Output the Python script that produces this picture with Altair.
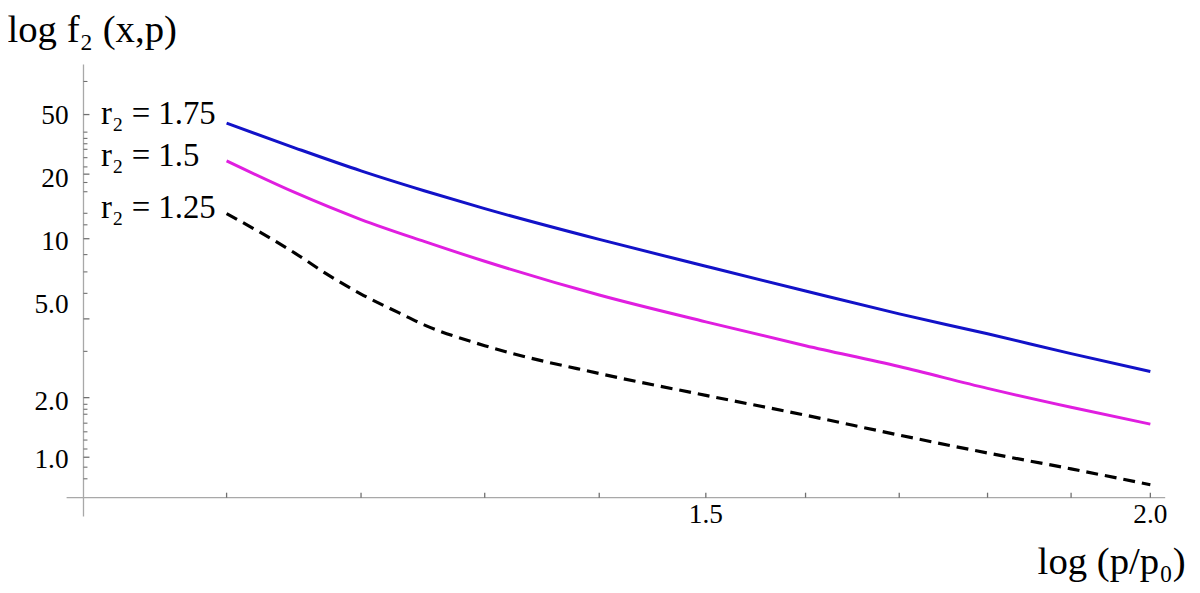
import altair as alt
import pandas as pd

# ---------------- data ----------------
# curve sample points: x = p/p0 (log axis), u = vertical position on the
# (irregularly labelled) log f2 axis
x_vals = [1.1, 1.15, 1.2, 1.25, 1.3, 1.4, 1.5, 1.6, 1.7, 1.8, 1.9, 2.0]
blue_u = [3.77, 3.52, 3.29, 3.09, 2.91, 2.60, 2.33, 2.08, 1.85, 1.65, 1.45, 1.27]
magenta_u = [3.39, 3.07, 2.80, 2.58, 2.38, 2.04, 1.77, 1.53, 1.32, 1.10, 0.91, 0.74]
black_x = [1.1, 1.15, 1.175, 1.2, 1.23, 1.25, 1.3, 1.4, 1.5, 1.6, 1.7, 1.8, 1.9, 2.0]
black_u = [2.86, 2.46, 2.24, 2.05, 1.86, 1.74, 1.53, 1.25, 1.03, 0.83, 0.63, 0.45, 0.29, 0.13]

# curve labels
curve_labels = ["r\u2082 = 1.75", "r\u2082 = 1.5", "r\u2082 = 1.25"]
curve_label_x = [1.0142, 1.0142, 1.0142]
curve_label_u = [3.76, 3.34, 2.82]

# y axis labels and ticks
y_label_pos = [3.84, 3.21, 2.575, 1.94, 0.96, 0.375]
y_label_text = ["50", "20", "10", "5.0", "2.0", "1.0"]
y_major_ticks = [3.857, 3.257, 2.607, 1.80, 1.007, 0.407]
y_minor_ticks = [4.19, 3.68, 3.617, 3.563, 3.507, 3.423, 3.33, 3.173, 3.08,
                 2.863, 2.747, 2.447, 2.273, 2.057, 1.473, 0.94, 0.89, 0.84,
                 0.75, 0.663, 0.58, 0.49, 0.307, 0.19]

# x axis ticks and labels
x_ticks = [1.1, 1.2, 1.3, 1.4, 1.5, 1.6, 1.7, 1.8, 1.9, 2.0]
x_label_vals = [1.5, 2.0]
x_label_text = ["1.5", "2.0"]

x_domain = [1.0027, 2.0193]
y_domain = [0, 4.36]

# ---------------- layout ----------------
W, H = 1089, 436
FONT = "Liberation Serif"

curves = pd.concat([
    pd.DataFrame({"x": x_vals, "u": blue_u, "series": "r2 = 1.75"}),
    pd.DataFrame({"x": x_vals, "u": magenta_u, "series": "r2 = 1.5"}),
])
dashed = pd.DataFrame({"x": black_x, "u": black_u})
labels_df = pd.DataFrame({"x": curve_label_x, "u": curve_label_u, "text": curve_labels})
ymaj = pd.DataFrame({"u": y_major_ticks})
ymin = pd.DataFrame({"u": y_minor_ticks})
xt = pd.DataFrame({"x": x_ticks})
ylab = pd.DataFrame({"u": y_label_pos, "text": y_label_text})
xlab = pd.DataFrame({"x": x_label_vals, "text": x_label_text})

x_axis = alt.Axis(
    labels=False, ticks=False, tickSize=0, domain=False, grid=False,
    title="log (p/p\u2080)", titleFont=FONT, titleFontSize=39,
    titleFontWeight="normal", titleColor="black", titleX=1109, titleY=76,
    titleAlign="right", titleBaseline="alphabetic", titleAngle=0,
)
y_axis = alt.Axis(
    labels=False, ticks=False, tickSize=0, domain=False, grid=False,
    title="log f\u2082 (x,p)", titleFont=FONT, titleFontSize=39,
    titleFontWeight="normal", titleColor="black", titleX=-77, titleY=-23,
    titleAlign="left", titleBaseline="alphabetic", titleAngle=0,
)

X = alt.X("x:Q", scale=alt.Scale(type="log", domain=x_domain), axis=x_axis)
Y = alt.Y("u:Q", scale=alt.Scale(type="linear", domain=y_domain), axis=y_axis)

solid = alt.Chart(curves).mark_line(strokeWidth=3, interpolate="monotone").encode(
    x=X, y=Y,
    color=alt.Color("series:N", scale=alt.Scale(
        domain=["r2 = 1.75", "r2 = 1.5"], range=["#1212C8", "#E01EE0"]), legend=None),
)
dash = alt.Chart(dashed).mark_line(strokeWidth=3.2, color="black",
                                   strokeDash=[12, 7],
                                   interpolate="monotone").encode(x=X, y=Y)

texts = alt.Chart(labels_df).mark_text(
    align="left", baseline="alphabetic", font=FONT, fontSize=33, color="black"
).encode(x=X, y=Y, text="text:N")

ylabels = alt.Chart(ylab).mark_text(
    align="right", baseline="middle", font=FONT, fontSize=27.5, color="black"
).encode(y=Y, x=alt.value(-15), text="text:N")
xlabels = alt.Chart(xlab).mark_text(
    align="center", baseline="alphabetic", font=FONT, fontSize=27.5, color="black"
).encode(x=X, y=alt.value(H + 25), text="text:N")

axis_color = "#A8A8A8"
tick_color = "#707070"
one = alt.Data(values=[{"a": 1}])
y_line = alt.Chart(one).mark_rule(color=axis_color, strokeWidth=1.3).encode(
    x=alt.value(0), y=alt.value(0), y2=alt.value(H + 19))
x_line = alt.Chart(one).mark_rule(color=axis_color, strokeWidth=1.3).encode(
    y=alt.value(H), x=alt.value(-17), x2=alt.value(W))

ymaj_ticks = alt.Chart(ymaj).mark_rule(color=tick_color, strokeWidth=1.3).encode(
    y=Y, x=alt.value(0), x2=alt.value(6))
ymin_ticks = alt.Chart(ymin).mark_rule(color=tick_color, strokeWidth=1.1).encode(
    y=Y, x=alt.value(0), x2=alt.value(4))
x_tick_marks = alt.Chart(xt).mark_rule(color=tick_color, strokeWidth=1.3).encode(
    x=X, y=alt.value(H), y2=alt.value(H - 5))

chart = alt.layer(
    solid, dash, texts, ylabels, xlabels, y_line, x_line,
    ymaj_ticks, ymin_ticks, x_tick_marks
).properties(
    width=W, height=H,
    autosize=alt.AutoSizeParams(type="none"),
    padding={"left": 76, "top": 55, "right": 27, "bottom": 94},
    background="white",
).configure_view(stroke=None)

chart.save("out.html", embed_options={"renderer": "svg", "actions": False})
